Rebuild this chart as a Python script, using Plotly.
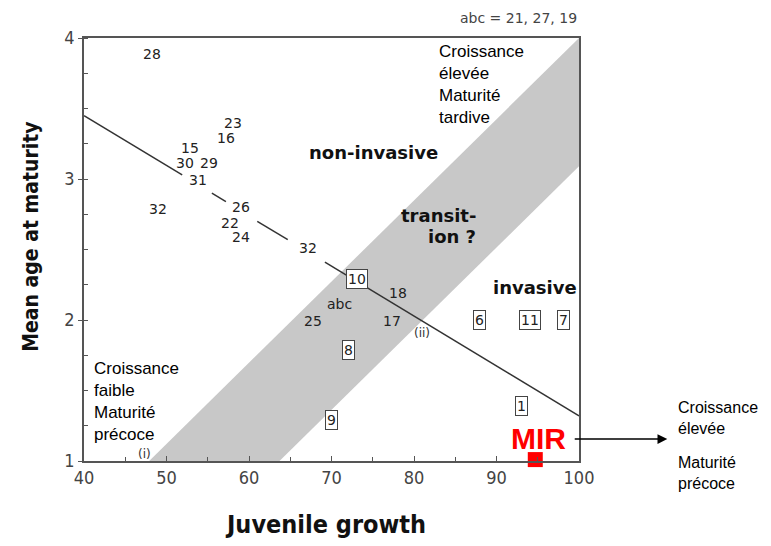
import plotly.graph_objects as go

# grey transition band (corners)
band_x = [47.9, 100, 100, 63.7, 47.9]
band_y = [1.0, 4.0, 3.09, 1.0, 1.0]

# regression line, broken where labels sit on it
line_x = [40, 51.9, None, 55.5, 57.2, None, 61.0, 64.7, None, 69.2, 100]
line_y = [3.45, 3.03, None, 2.90, 2.84, None, 2.70, 2.57, None, 2.41, 1.32]

# plain labels (species numbers)
num_labels = ['28', '23', '16', '15', '30', '29', '31', '32', '26', '22', '24', '32',
              'abc', '25', '17', '18']
num_x = [48.2, 58.0, 57.2, 52.8, 52.2, 55.2, 53.8, 49.0, 59.0, 57.7, 59.0, 67.1,
         71.0, 67.7, 77.3, 78.0]
num_y = [3.89, 3.40, 3.29, 3.22, 3.11, 3.11, 2.99, 2.79, 2.80, 2.69, 2.59, 2.51,
         2.11, 1.99, 1.99, 2.19]

# boxed labels
box_labels = ['10', '8', '9', '6', '11', '7', '1']
box_x = [73.1, 72.1, 70.0, 87.9, 94.1, 98.1, 93.0]
box_y = [2.29, 1.79, 1.29, 2.00, 2.00, 2.00, 1.39]

# MIR point
mir_x = [94.7]
mir_y = [1.01]

num_font = dict(family='DejaVu Sans', size=14, color='#222')
bold_font = dict(family='DejaVu Sans', size=18, color='#111')
fr_font = dict(family='Liberation Sans, Arial', size=17, color='#000')
side_font = dict(family='Liberation Sans, Arial', size=16, color='#000')
tick_font = dict(family='Liberation Sans Narrow, DejaVu Sans Condensed, Roboto', size=18, color='#444')
title_family = 'DejaVu Sans Condensed, Liberation Sans Narrow, DejaVu Sans'

fig = go.Figure()

fig.add_trace(go.Scatter(
  x=band_x, y=band_y,
  mode='lines', fill='toself',
  fillcolor='rgb(200,200,200)',
  line=dict(width=0),
  hoverinfo='skip',
))

fig.add_trace(go.Scatter(
  x=line_x, y=line_y,
  mode='lines',
  line=dict(color='#333', width=1.5),
  connectgaps=False,
  hoverinfo='skip',
))

fig.add_trace(go.Scatter(
  x=mir_x, y=mir_y,
  mode='markers',
  marker=dict(symbol='square', size=15, color='#ff0000'),
  cliponaxis=False,
  hoverinfo='skip',
))

for t, x, y in zip(num_labels, num_x, num_y):
  fig.add_annotation(x=x, y=y, text=t, showarrow=False, font=num_font)

for t, x, y in zip(box_labels, box_x, box_y):
  fig.add_annotation(
    x=x, y=y, text=t, showarrow=False, font=num_font,
    bgcolor='white', bordercolor='#444', borderwidth=1, borderpad=1,
  )

fig.add_annotation(x=47.3, y=1.05, text='(i)', showarrow=False,
                   font=dict(family='DejaVu Sans', size=12, color='#333'))
fig.add_annotation(x=81.0, y=1.91, text='(ii)', showarrow=False,
                   font=dict(family='DejaVu Sans', size=12, color='#333'))

fig.add_annotation(x=75.1, y=3.19, text='<b>non-invasive</b>', showarrow=False, font=bold_font)
fig.add_annotation(x=87.7, y=2.74, text='<b>transit-</b>', showarrow=False,
                   xanchor='right', font=bold_font)
fig.add_annotation(x=87.7, y=2.595, text='<b>ion ?</b>', showarrow=False,
                   xanchor='right', font=bold_font)
fig.add_annotation(x=94.7, y=2.23, text='<b>invasive</b>', showarrow=False, font=bold_font)

fig.add_annotation(x=82.8, y=3.67, text='Croissance<br>élevée<br>Maturité<br>tardive',
                   showarrow=False, xanchor='left', align='left', font=fr_font)
fig.add_annotation(x=41.0, y=1.42, text='Croissance<br>faible<br>Maturité<br>précoce',
                   showarrow=False, xanchor='left', align='left', font=fr_font)

fig.add_annotation(x=95.1, y=1.16, text='<b>MIR</b>', showarrow=False,
                   font=dict(family='Liberation Sans, Arial', size=30, color='#ff0000'))

fig.add_annotation(
  x=110.7, y=1.156, ax=99.3, ay=1.156, axref='x', ayref='y',
  text='', showarrow=True, arrowhead=2, arrowsize=1.3, arrowwidth=1.5, arrowcolor='#000',
)
fig.add_annotation(x=1.196, y=0.1017, xref='paper', yref='paper', text='Croissance<br>élevée',
                   showarrow=False, xanchor='left', yanchor='middle', align='left', font=side_font)
fig.add_annotation(x=1.196, y=-0.0283, xref='paper', yref='paper', text='Maturité<br>précoce',
                   showarrow=False, xanchor='left', yanchor='middle', align='left', font=side_font)

fig.add_annotation(x=1.0, y=1.047, xref='paper', yref='paper', text='abc = 21, 27, 19',
                   showarrow=False, xanchor='right', yanchor='middle',
                   font=dict(family='DejaVu Sans', size=14, color='#444'))

fig.add_annotation(x=0.488, y=-0.151, xref='paper', yref='paper', text='<b>Juvenile growth</b>',
                   showarrow=False, xanchor='center', yanchor='middle',
                   font=dict(family=title_family, size=25, color='#111'))
fig.add_annotation(x=-0.107, y=0.53, xref='paper', yref='paper', text='<b>Mean age at maturity</b>',
                   showarrow=False, textangle=-90, xanchor='center', yanchor='middle',
                   font=dict(family=title_family, size=21, color='#111'))

# page body adds an 8px margin, so the figure is a bit smaller than the window
fig.update_layout(
  width=755, height=530,
  margin=dict(l=76, r=184, t=30, b=77, pad=0),
  paper_bgcolor='white',
  plot_bgcolor='white',
  showlegend=False,
)

fig.update_xaxes(
  range=[40, 100],
  dtick=10,
  showgrid=False, zeroline=False,
  showline=True, mirror=True, linecolor='#555', linewidth=1.5,
  ticks='inside', ticklen=5, tickcolor='#555',
  minor=dict(dtick=5, ticks='inside', ticklen=4, tickcolor='#555'),
  tickfont=tick_font,
)

fig.update_yaxes(
  range=[1, 4],
  dtick=1,
  showgrid=False, zeroline=False,
  showline=True, mirror=True, linecolor='#555', linewidth=1.5,
  ticks='outside', ticklen=4, tickcolor='#555',
  minor=dict(dtick=0.25, ticks='inside', ticklen=4, tickcolor='#555'),
  tickfont=tick_font,
)

fig.write_html('out.html')
